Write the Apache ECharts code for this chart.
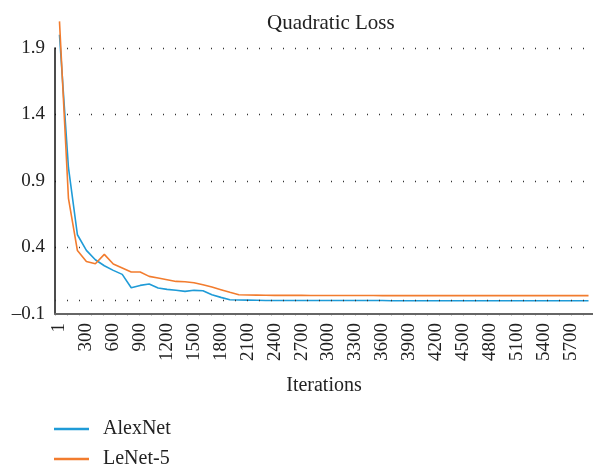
<!DOCTYPE html>
<html>
<head>
<meta charset="utf-8">
<script src="https://cdn.jsdelivr.net/npm/echarts@6/dist/echarts.min.js"></script>
<style>
html, body { margin: 0; padding: 0; background: #fff; }
#chart { width: 593px; height: 467px; }
</style>
</head>
<body>
<div id="chart"></div>
<script>
// iterations (every 100)
const iterations = ['1', '100', '200', '300', '400', '500', '600', '700', '800', '900',
    '1000', '1100', '1200', '1300', '1400', '1500', '1600', '1700', '1800', '1900',
    '2000', '2100', '2200', '2300', '2400', '2500', '2600', '2700', '2800', '2900',
    '3000', '3100', '3200', '3300', '3400', '3500', '3600', '3700', '3800', '3900',
    '4000', '4100', '4200', '4300', '4400', '4500', '4600', '4700', '4800', '4900',
    '5000', '5100', '5200', '5300', '5400', '5500', '5600', '5700', '5800', '5900'];

const alexNet = [2.0, 1.0, 0.496, 0.378, 0.308, 0.263, 0.228, 0.198, 0.097, 0.115,
    0.125, 0.095, 0.085, 0.078, 0.07, 0.078, 0.075, 0.045, 0.025, 0.007,
    0.005, 0.004, 0.003, 0.002, 0.002, 0.001, 0.001, 0.001, 0.001, 0.001,
    0.001, 0.001, 0.001, 0.001, 0.001, 0.001, 0.001, 0.0, 0.0, 0.0,
    0.0, 0.0, 0.0, 0.0, 0.0, 0.0, 0.0, 0.0, 0.0, 0.0,
    0.0, 0.0, 0.0, 0.0, 0.0, 0.0, 0.0, 0.0, 0.0, 0.0];

const leNet5 = [2.1, 0.77, 0.377, 0.295, 0.278, 0.348, 0.276, 0.246, 0.216, 0.216,
    0.183, 0.171, 0.158, 0.145, 0.143, 0.135, 0.12, 0.103, 0.083, 0.063,
    0.045, 0.043, 0.042, 0.041, 0.04, 0.04, 0.04, 0.04, 0.039, 0.039,
    0.039, 0.039, 0.039, 0.039, 0.039, 0.039, 0.038, 0.038, 0.038, 0.038,
    0.038, 0.038, 0.038, 0.038, 0.038, 0.038, 0.038, 0.038, 0.038, 0.038,
    0.038, 0.038, 0.038, 0.038, 0.038, 0.038, 0.038, 0.038, 0.038, 0.038];

const yTicks = { min: -0.1, max: 1.9, step: 0.5 };

const font = '"Liberation Serif", "DejaVu Serif", serif';
const dotted = { color: '#333', width: 1.3, type: [1, 11] };

var myChart = echarts.init(document.getElementById('chart'));
var option = {
    backgroundColor: '#fff',
    animation: false,
    title: {
        text: 'Quadratic Loss',
        left: 262,
        top: 8,
        textStyle: { fontFamily: font, fontSize: 21, fontWeight: 'normal', color: '#222' }
    },
    legend: {
        orient: 'vertical',
        left: 54,
        top: 419,
        height: 70,
        padding: 0,
        icon: 'rect',
        itemWidth: 35,
        itemHeight: 2.5,
        itemGap: 10,
        data: ['AlexNet', 'LeNet-5'],
        textStyle: { fontFamily: font, fontSize: 20, color: '#222', padding: [0, 0, 0, 9] }
    },
    grid: {
        left: 55,
        right: -3,
        top: 48,
        bottom: 153
    },
    xAxis: {
        type: 'category',
        data: iterations,
        name: 'Iterations',
        nameLocation: 'middle',
        nameGap: 62,
        nameTextStyle: { fontFamily: font, fontSize: 20, color: '#222' },
        axisLine: { onZero: false, lineStyle: { color: '#666', width: 2 } },
        axisTick: { show: false },
        axisLabel: {
            interval: 2,
            rotate: 90,
            margin: 9,
            fontFamily: font,
            fontSize: 19,
            color: '#222'
        }
    },
    yAxis: {
        type: 'value',
        min: yTicks.min,
        max: yTicks.max,
        interval: yTicks.step,
        axisLine: { show: true, lineStyle: { color: '#111', width: 1.5 } },
        axisTick: { show: false },
        axisLabel: {
            margin: 10,
            fontFamily: font,
            fontSize: 19,
            color: '#222',
            formatter: function (v) {
                return v.toFixed(1).replace('-', '\u2013');
            }
        },
        splitLine: { show: true, lineStyle: dotted }
    },
    series: [
        {
            name: 'AlexNet',
            type: 'line',
            data: alexNet,
            symbol: 'none',
            clip: false,
            color: '#1f9bd7',
            lineStyle: { width: 1.6 },
            markLine: {
                silent: true,
                symbol: 'none',
                label: { show: false },
                lineStyle: dotted,
                data: [{ yAxis: 0 }]
            }
        },
        {
            name: 'LeNet-5',
            type: 'line',
            data: leNet5,
            symbol: 'none',
            clip: false,
            color: '#f27c2e',
            lineStyle: { width: 1.6 }
        }
    ]
};
myChart.setOption(option);
window.addEventListener('resize', () => {
    myChart.resize()
})
</script>
</body>
</html>
